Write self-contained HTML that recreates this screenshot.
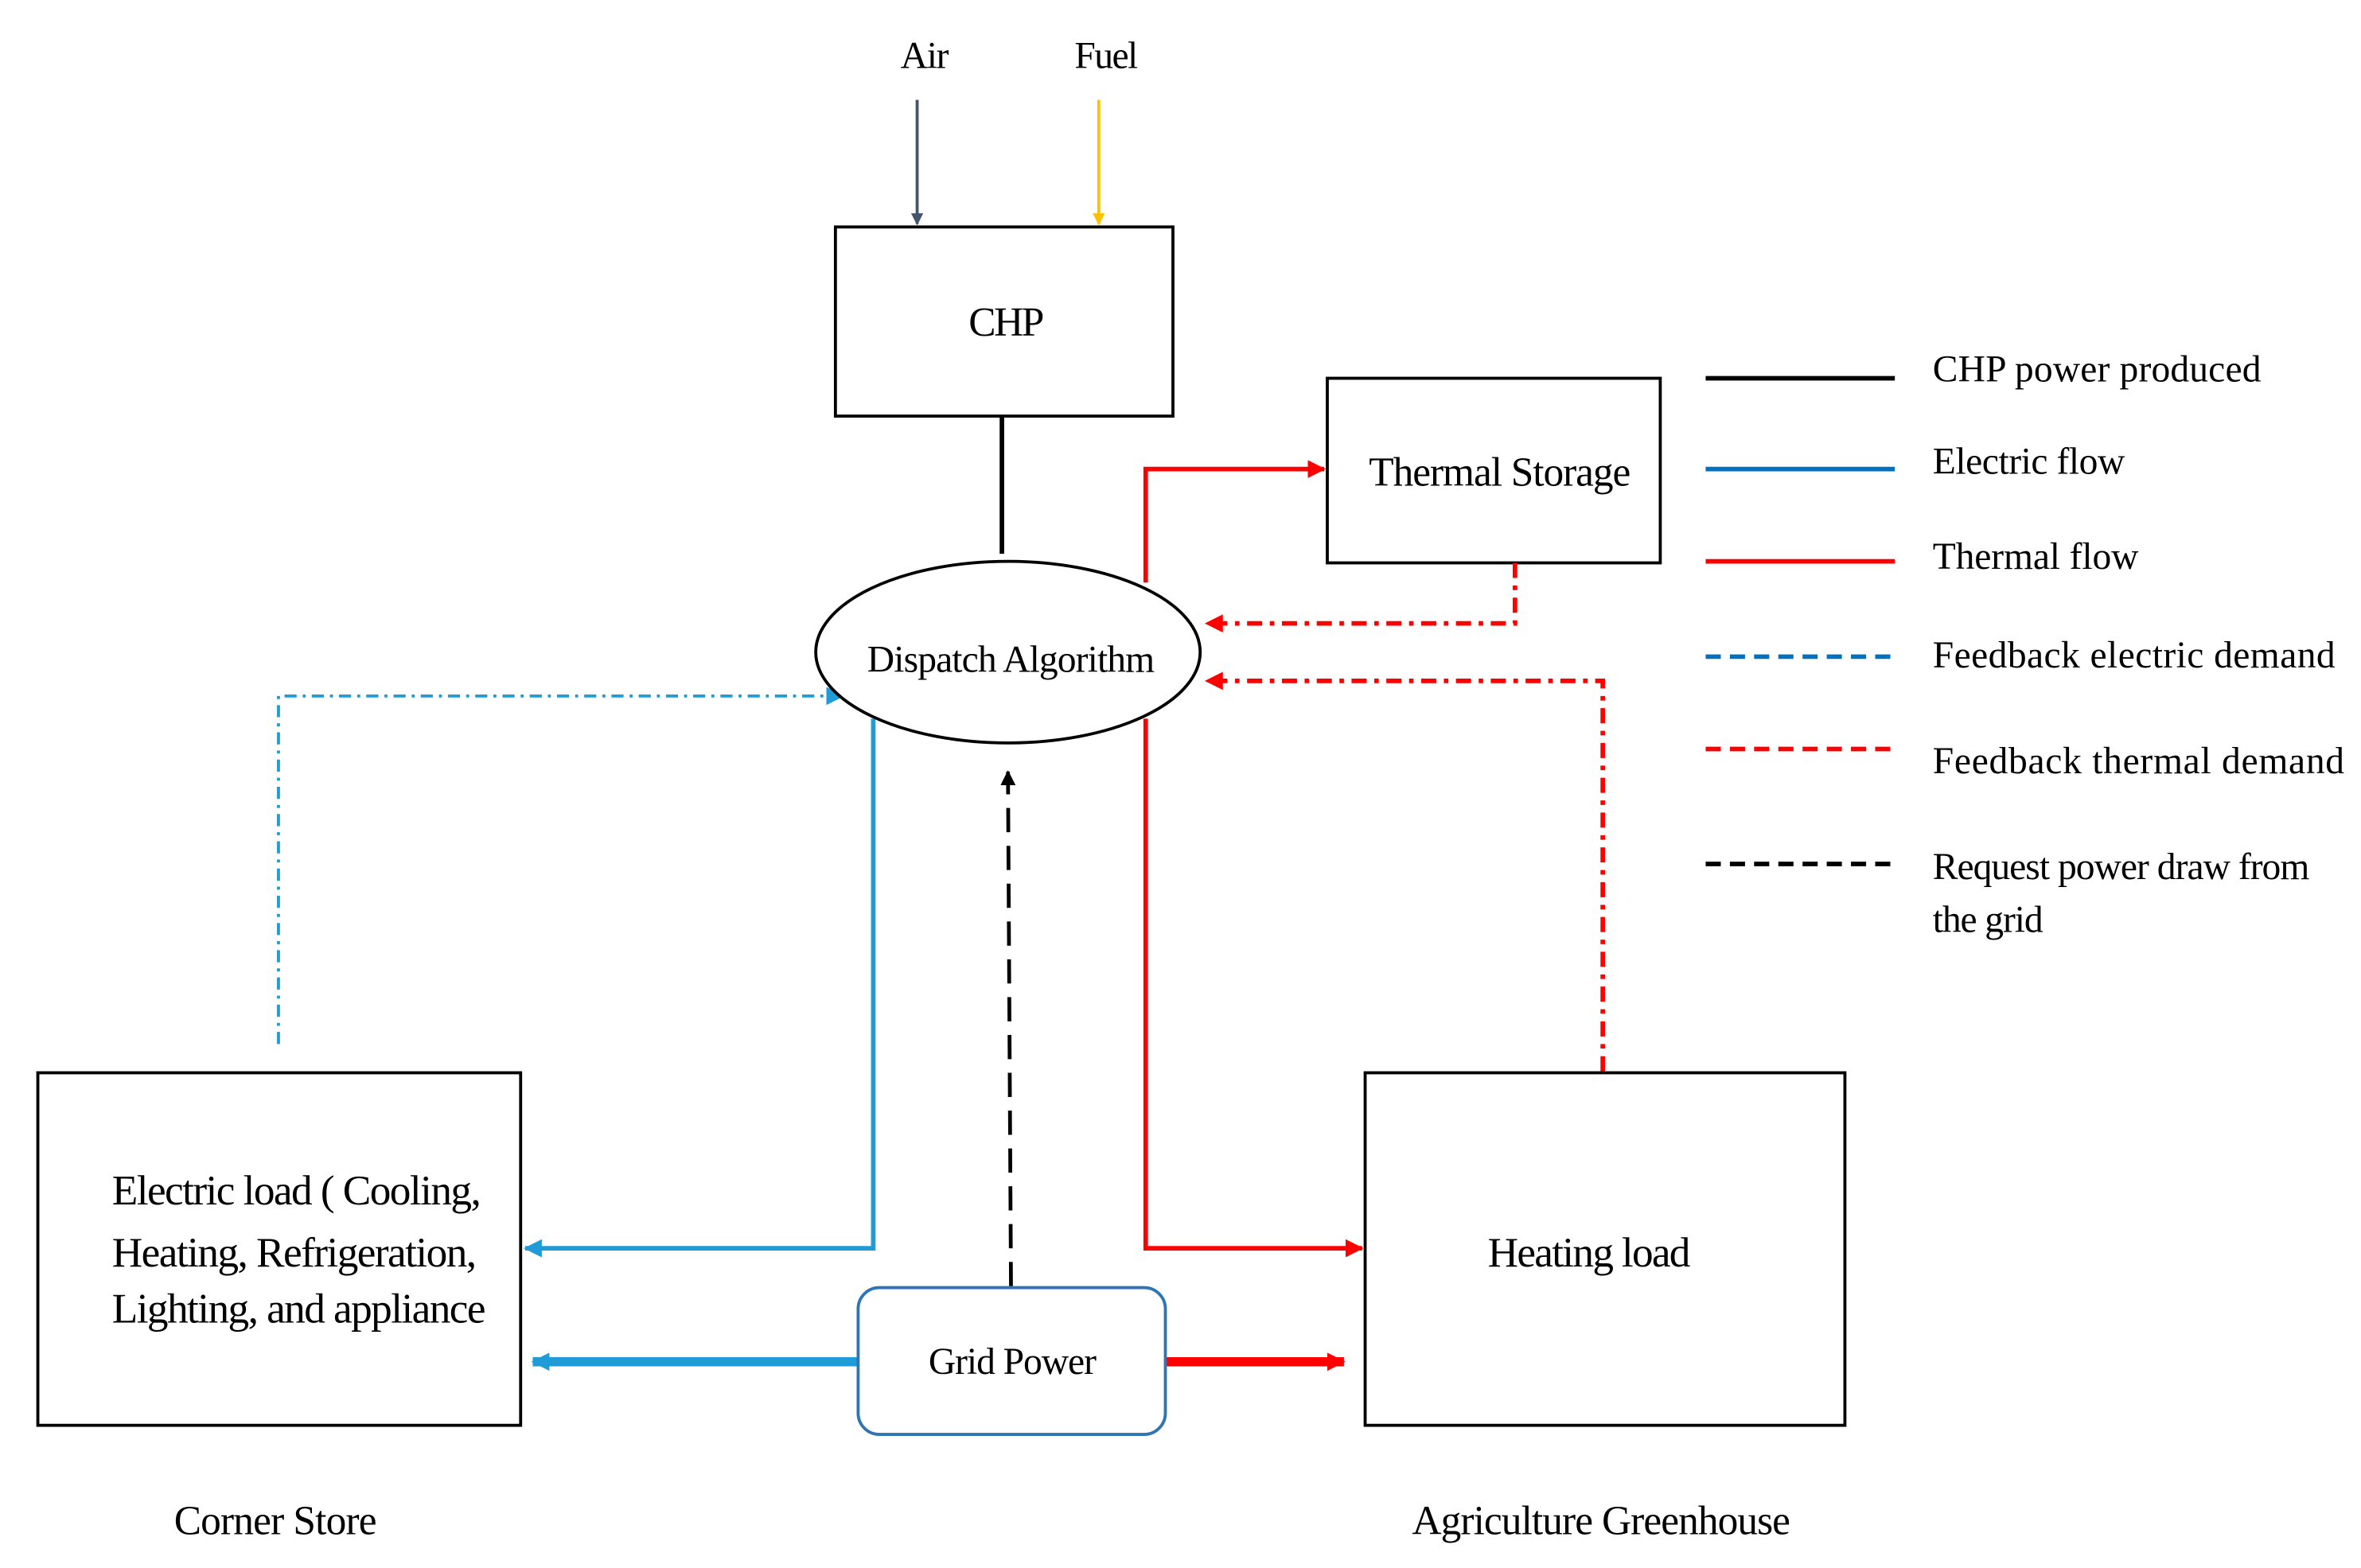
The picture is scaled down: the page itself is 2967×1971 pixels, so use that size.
<!DOCTYPE html>
<html><head><meta charset="utf-8"><style>
html,body{margin:0;padding:0;background:#fff;width:2967px;height:1971px;overflow:hidden}
svg{display:block}
text{font-family:"Liberation Serif",serif;fill:#000}
</style></head><body>
<svg width="2967" height="1971" viewBox="0 0 1560 1036.3" preserveAspectRatio="none" xmlns="http://www.w3.org/2000/svg">
<defs>
<marker id="ab" markerWidth="8" markerHeight="8" refX="7" refY="4" orient="auto" markerUnits="userSpaceOnUse"><path d="M0,0 L8,4 L0,8 z" fill="#44546a"/></marker>
<marker id="ay" markerWidth="8" markerHeight="8" refX="7" refY="4" orient="auto" markerUnits="userSpaceOnUse"><path d="M0,0 L8,4 L0,8 z" fill="#ffc000"/></marker>
<marker id="ar" markerWidth="12" markerHeight="12" refX="11" refY="6" orient="auto" markerUnits="userSpaceOnUse"><path d="M0,0 L12,6 L0,12 z" fill="#ff0000"/></marker>
<marker id="abl" markerWidth="12" markerHeight="12" refX="11" refY="6" orient="auto" markerUnits="userSpaceOnUse"><path d="M0,0 L12,6 L0,12 z" fill="#1f9bd7"/></marker>
<marker id="ak" markerWidth="10" markerHeight="10" refX="9" refY="5" orient="auto" markerUnits="userSpaceOnUse"><path d="M0,0 L10,5 L0,10 z" fill="#000"/></marker>
</defs>

<!-- inputs -->
<text x="611" y="45" font-size="25" text-anchor="middle" textLength="32">Air</text>
<text x="731" y="45" font-size="25" text-anchor="middle" textLength="42">Fuel</text>
<line x1="606" y1="66" x2="606" y2="148" stroke="#44546a" stroke-width="2" marker-end="url(#ab)"/>
<line x1="726" y1="66" x2="726" y2="148" stroke="#ffc000" stroke-width="2" marker-end="url(#ay)"/>

<!-- CHP -->
<rect x="552" y="150" width="223" height="125" fill="#fff" stroke="#000" stroke-width="2"/>
<text x="665" y="222" font-size="27" text-anchor="middle" textLength="50">CHP</text>
<line x1="662" y1="275" x2="662" y2="366" stroke="#000" stroke-width="3"/>

<!-- Thermal storage -->
<rect x="877" y="250" width="220" height="122" fill="#fff" stroke="#000" stroke-width="2"/>
<text x="991" y="321" font-size="27" text-anchor="middle" textLength="173">Thermal Storage</text>

<!-- connectors -->
<polyline points="757,385 757,310 875,310" fill="none" stroke="#ff0000" stroke-width="3" marker-end="url(#ar)"/>
<polyline points="1001,372 1001,412 797,412" fill="none" stroke="#ff0000" stroke-width="3" stroke-dasharray="10,5,3,5" marker-end="url(#ar)"/>
<polyline points="1059,708 1059,450 797,450" fill="none" stroke="#ff0000" stroke-width="3" stroke-dasharray="10,5,3,5" marker-end="url(#ar)"/>
<polyline points="757,475 757,825 900,825" fill="none" stroke="#ff0000" stroke-width="3" marker-end="url(#ar)"/>
<polyline points="577,475 577,825 347,825" fill="none" stroke="#1f9bd7" stroke-width="3" marker-end="url(#abl)"/>
<polyline points="184,690 184,460 557,460" fill="none" stroke="#1f9bd7" stroke-width="2" stroke-dasharray="8,4,2,4" marker-end="url(#abl)"/>
<line x1="668" y1="850" x2="666" y2="510" stroke="#000" stroke-width="2.5" stroke-dasharray="16,9" marker-end="url(#ak)"/>

<!-- ellipse -->
<ellipse cx="666" cy="431" rx="127" ry="60" fill="#fff" stroke="#000" stroke-width="2"/>
<text x="668" y="444" font-size="25" text-anchor="middle" textLength="190">Dispatch Algorithm</text>

<!-- grid power -->
<line x1="567" y1="900" x2="352" y2="900" stroke="#1f9bd7" stroke-width="6" marker-end="url(#abl)"/>
<line x1="770" y1="900" x2="888" y2="900" stroke="#ff0000" stroke-width="6" marker-end="url(#ar)"/>
<rect x="567" y="851" width="203" height="97" rx="14" fill="#fff" stroke="#2e75b6" stroke-width="2"/>
<text x="669" y="908" font-size="25" text-anchor="middle" textLength="111">Grid Power</text>

<!-- electric load -->
<rect x="25" y="709" width="319" height="233" fill="#fff" stroke="#000" stroke-width="2"/>
<text x="74" y="796" font-size="28" textLength="244">Electric load ( Cooling,</text>
<text x="74" y="837" font-size="28" textLength="241">Heating, Refrigeration,</text>
<text x="74" y="874" font-size="28" textLength="247">Lighting, and appliance</text>

<!-- heating load -->
<rect x="902" y="709" width="317" height="233" fill="#fff" stroke="#000" stroke-width="2"/>
<text x="983" y="837" font-size="28" textLength="134">Heating load</text>

<text x="182" y="1014" font-size="27" text-anchor="middle" textLength="134">Corner Store</text>
<text x="1058" y="1014" font-size="27" text-anchor="middle" textLength="250">Agriculture Greenhouse</text>

<!-- legend -->
<line x1="1127" y1="250" x2="1252" y2="250" stroke="#000" stroke-width="3"/>
<line x1="1127" y1="310" x2="1252" y2="310" stroke="#0070c0" stroke-width="3"/>
<line x1="1127" y1="371" x2="1252" y2="371" stroke="#ff0000" stroke-width="3"/>
<line x1="1127" y1="434" x2="1252" y2="434" stroke="#0070c0" stroke-width="3" stroke-dasharray="10,6"/>
<line x1="1127" y1="495" x2="1252" y2="495" stroke="#ff0000" stroke-width="3" stroke-dasharray="10,6"/>
<line x1="1127" y1="571" x2="1252" y2="571" stroke="#000" stroke-width="3" stroke-dasharray="10,6"/>
<text x="1277" y="252" font-size="25" textLength="217">CHP power produced</text>
<text x="1277" y="313" font-size="25" textLength="127">Electric flow</text>
<text x="1277" y="376" font-size="25" textLength="136">Thermal flow</text>
<text x="1277" y="441" font-size="25" textLength="266">Feedback electric demand</text>
<text x="1277" y="511" font-size="25" textLength="272">Feedback thermal demand</text>
<text x="1277" y="581" font-size="25" textLength="249">Request power draw from</text>
<text x="1277" y="616" font-size="25" textLength="73">the grid</text>
</svg>
</body></html>
